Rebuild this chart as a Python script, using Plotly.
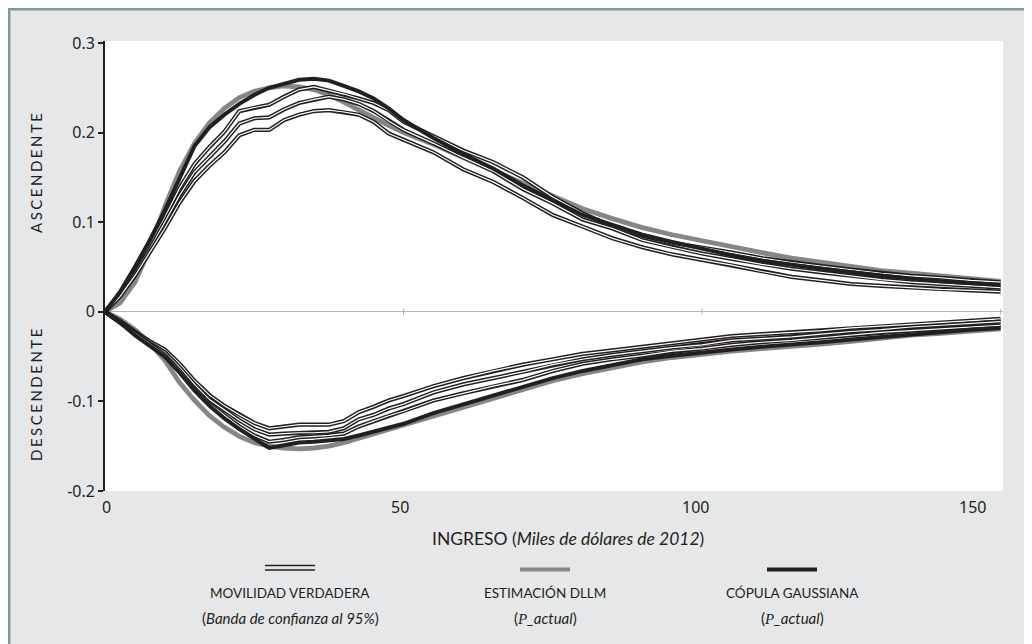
import plotly.graph_objects as go

# ---------------- data ----------------
X = [0, 2.5, 5, 7.5, 10, 12.5, 15, 17.5, 20, 22.5, 25, 27.5, 30, 32.5, 35, 37.5, 40, 42.5, 45, 47.5, 50,
     55, 60, 65, 70, 75, 80, 85, 90, 95, 100, 105, 110, 115, 120, 125, 130, 135, 140, 145, 150]

# Estimación DLLM (gray)
dllm_asc = [0, 0.010, 0.033, 0.070, 0.117, 0.157, 0.188, 0.211, 0.227, 0.239, 0.246, 0.250, 0.252, 0.251, 0.248,
            0.242, 0.234, 0.225, 0.216, 0.208, 0.200,
            0.187, 0.172, 0.158, 0.144, 0.129, 0.115, 0.104, 0.094, 0.086, 0.079, 0.072, 0.066, 0.060, 0.055,
            0.050, 0.046, 0.043, 0.040, 0.037, 0.034]
dllm_desc = [0, -0.008, -0.020, -0.035, -0.054, -0.079, -0.099, -0.116, -0.129, -0.139, -0.146, -0.150, -0.152,
             -0.153, -0.152, -0.150, -0.146, -0.141, -0.137, -0.132, -0.127,
             -0.116, -0.106, -0.096, -0.086, -0.077, -0.069, -0.062, -0.056, -0.051, -0.047, -0.044, -0.041,
             -0.039, -0.036, -0.033, -0.029, -0.026, -0.024, -0.021, -0.019]

# Cópula gaussiana (black)
copula_asc = [0, 0.022, 0.050, 0.080, 0.113, 0.150, 0.185, 0.206, 0.220, 0.232, 0.242, 0.250, 0.255, 0.259, 0.260,
              0.258, 0.252, 0.246, 0.238, 0.227, 0.214,
              0.194, 0.176, 0.160, 0.141, 0.125, 0.108, 0.097, 0.086, 0.078, 0.070, 0.063, 0.057, 0.052, 0.048,
              0.044, 0.040, 0.037, 0.034, 0.032, 0.030]
copula_desc = [0, -0.012, -0.026, -0.038, -0.050, -0.068, -0.088, -0.105, -0.119, -0.131, -0.142, -0.152, -0.149,
               -0.146, -0.145, -0.144, -0.142, -0.138, -0.134, -0.130, -0.125,
               -0.113, -0.103, -0.093, -0.083, -0.074, -0.066, -0.059, -0.053, -0.049, -0.045, -0.042, -0.039,
               -0.037, -0.034, -0.031, -0.028, -0.025, -0.023, -0.020, -0.018]

# Movilidad verdadera (banda de confianza al 95%) - double lines
verd_a_asc = [0, 0.020, 0.045, 0.074, 0.105, 0.138, 0.165, 0.184, 0.201, 0.224, 0.228, 0.231, 0.240, 0.248, 0.251,
              0.247, 0.243, 0.238, 0.233, 0.225, 0.212,
              0.196, 0.180, 0.167, 0.150, 0.128, 0.110, 0.095, 0.085, 0.077, 0.072, 0.066, 0.060, 0.055, 0.051,
              0.047, 0.043, 0.040, 0.038, 0.035, 0.033]
verd_b_asc = [0, 0.019, 0.043, 0.070, 0.100, 0.130, 0.156, 0.173, 0.190, 0.210, 0.216, 0.217, 0.226, 0.233, 0.237,
              0.240, 0.237, 0.232, 0.224, 0.213, 0.203,
              0.188, 0.172, 0.157, 0.137, 0.121, 0.103, 0.093, 0.080, 0.072, 0.065, 0.059, 0.053, 0.048, 0.044,
              0.040, 0.036, 0.033, 0.031, 0.029, 0.027]
verd_c_asc = [0, 0.017, 0.040, 0.066, 0.093, 0.122, 0.146, 0.163, 0.178, 0.197, 0.203, 0.203, 0.214, 0.220, 0.224,
              0.225, 0.223, 0.220, 0.212, 0.199, 0.192,
              0.178, 0.159, 0.145, 0.127, 0.108, 0.095, 0.082, 0.072, 0.064, 0.058, 0.052, 0.045, 0.039, 0.035,
              0.031, 0.029, 0.027, 0.025, 0.024, 0.0225]
verd_a_desc = [0, -0.010, -0.022, -0.033, -0.042, -0.058, -0.077, -0.093, -0.105, -0.115, -0.124, -0.130, -0.128,
               -0.126, -0.126, -0.126, -0.122, -0.112, -0.106, -0.099, -0.094,
               -0.083, -0.074, -0.066, -0.059, -0.053, -0.047, -0.043, -0.039, -0.035, -0.031, -0.027, -0.025,
               -0.023, -0.021, -0.018, -0.016, -0.014, -0.012, -0.010, -0.008]
verd_b_desc = [0, -0.011, -0.023, -0.035, -0.045, -0.062, -0.081, -0.098, -0.110, -0.121, -0.131, -0.137, -0.136,
               -0.135, -0.135, -0.134, -0.130, -0.120, -0.115, -0.108, -0.103,
               -0.090, -0.081, -0.074, -0.067, -0.059, -0.053, -0.048, -0.044, -0.040, -0.037, -0.032, -0.030,
               -0.028, -0.025, -0.022, -0.020, -0.017, -0.015, -0.013, -0.011]
verd_c_desc = [0, -0.012, -0.025, -0.037, -0.048, -0.066, -0.086, -0.103, -0.116, -0.128, -0.138, -0.145, -0.143,
               -0.140, -0.139, -0.138, -0.136, -0.128, -0.122, -0.116, -0.111,
               -0.099, -0.091, -0.083, -0.076, -0.066, -0.058, -0.053, -0.049, -0.044, -0.041, -0.037, -0.034,
               -0.032, -0.029, -0.026, -0.023, -0.021, -0.019, -0.017, -0.015]

X_TICKS = [0, 50, 100, 150]
X_TICKTEXT = ["0", "50", "100", "150"]
Y_TICKS = [-0.2, -0.1, 0, 0.1, 0.2, 0.3]
Y_TICKTEXT = ["-0.2", "-0.1", "0", "0.1", "0.2", "0.3"]

X_TITLE = "INGRESO (<i>Miles de dólares de 2012</i>)"
Y_TITLE_UP = "ASCENDENTE"
Y_TITLE_DOWN = "DESCENDENTE"
LEG_NAMES = ["MOVILIDAD VERDADERA", "ESTIMACIÓN DLLM", "CÓPULA GAUSSIANA"]
LEG_SUBS = ["(<i>Banda de confianza al 95%</i>)",
            "(<i><span style='font-family:Liberation Serif'>P</span>_actual</i>)",
            "(<i><span style='font-family:Liberation Serif'>P</span>_actual</i>)"]

# ---------------- style ----------------
BLACK = "#231f20"
GRAY = "#858688"
ZGRAY = "#b4b5b7"
BG = "#e6e7e8"
FRAME = "#7f97a3"
TICKFONT = "Noto Sans"
CAPFONT = "Lato"
ITFONT = "Lato"
X_LABEL_SHIFT = [1, -4, -7, -28]   # horizontal nudges of the x tick labels (px)

# the page body adds an 8px offset; layout is expressed in screen pixels
OFF = 8
W, H = 1032 - OFF, 644 - OFF
PLOT_L, PLOT_R, PLOT_T = 105, 1003, 41          # screen px
L, T = PLOT_L - OFF, PLOT_T - OFF
R = W - (PLOT_R - OFF)
B = 153
PW, PH = W - L - R, H - T - B


def sx(xs):
    return (xs - OFF - L) / PW


def sy(ys):
    return (H - B - (ys - OFF)) / PH


fig = go.Figure()

for ys in (dllm_asc, dllm_desc):
    fig.add_trace(go.Scatter(x=X, y=ys, mode="lines", line=dict(color=GRAY, width=4.8),
                             hoverinfo="skip", showlegend=False))
for ys in (verd_a_asc, verd_b_asc, verd_c_asc, verd_a_desc, verd_b_desc, verd_c_desc):
    fig.add_trace(go.Scatter(x=X, y=ys, mode="lines", line=dict(color=BLACK, width=4.2),
                             hoverinfo="skip", showlegend=False))
    fig.add_trace(go.Scatter(x=X, y=ys, mode="lines", line=dict(color="white", width=1.2),
                             hoverinfo="skip", showlegend=False))
for ys in (copula_asc, copula_desc):
    fig.add_trace(go.Scatter(x=X, y=ys, mode="lines", line=dict(color=BLACK, width=4),
                             hoverinfo="skip", showlegend=False))

shapes = []
# frame border (top and left)
shapes.append(dict(type="line", xref="paper", yref="paper", x0=sx(OFF), x1=sx(1040), y0=sy(OFF + 1.2),
                   y1=sy(OFF + 1.2), line=dict(color=FRAME, width=2.5)))
shapes.append(dict(type="line", xref="paper", yref="paper", x0=sx(OFF + 1.2), x1=sx(OFF + 1.2), y0=sy(OFF),
                   y1=sy(660), line=dict(color=FRAME, width=2.5)))
# tick marks crossing the zero line
for v in X_TICKS[1:]:
    shapes.append(dict(type="line", xref="x", yref="y", x0=v, x1=v, y0=-0.0035, y1=0.0035,
                       line=dict(color=ZGRAY, width=1)))

# legend samples
LEG_CX = [290, 545, 792]
LEG_HALF = 25
c0 = LEG_CX[0]
for yy in (565.5, 570):
    shapes.append(dict(type="line", xref="paper", yref="paper", x0=sx(c0 - LEG_HALF), x1=sx(c0 + LEG_HALF),
                       y0=sy(yy), y1=sy(yy), line=dict(color=BLACK, width=1.4)))
shapes.append(dict(type="line", xref="paper", yref="paper", x0=sx(LEG_CX[1] - LEG_HALF), x1=sx(LEG_CX[1] + LEG_HALF),
                   y0=sy(569.5), y1=sy(569.5), line=dict(color=GRAY, width=4)))
shapes.append(dict(type="line", xref="paper", yref="paper", x0=sx(LEG_CX[2] - LEG_HALF), x1=sx(LEG_CX[2] + LEG_HALF),
                   y0=sy(569.5), y1=sy(569.5), line=dict(color=BLACK, width=4)))

annotations = []
# x tick labels
for v, t, dx in zip(X_TICKS, X_TICKTEXT, X_LABEL_SHIFT):
    annotations.append(dict(text=t, xref="x", yref="paper", x=v, y=sy(507), xshift=dx, showarrow=False,
                            xanchor="center", yanchor="middle",
                            font=dict(family=TICKFONT, size=16, color=BLACK)))
annotations.append(dict(text=X_TITLE, xref="paper", yref="paper", x=sx(568), y=sy(538), showarrow=False,
                        xanchor="center", yanchor="middle", font=dict(family=ITFONT, size=17.5, color=BLACK)))
for txt, yc in ((Y_TITLE_UP, 172), (Y_TITLE_DOWN, 394)):
    annotations.append(dict(text="<span style='letter-spacing:2.5px'>" + txt + "</span>", xref="paper",
                            yref="paper", x=sx(36), y=sy(yc), showarrow=False, textangle=-90,
                            xanchor="center", yanchor="middle",
                            font=dict(family=CAPFONT, size=15, color=BLACK)))
for cx, name, sub in zip(LEG_CX, LEG_NAMES, LEG_SUBS):
    annotations.append(dict(text=name, xref="paper", yref="paper", x=sx(cx), y=sy(593), showarrow=False,
                            xanchor="center", yanchor="middle", font=dict(family=CAPFONT, size=13.5, color=BLACK)))
    annotations.append(dict(text=sub, xref="paper", yref="paper", x=sx(cx), y=sy(618), showarrow=False,
                            xanchor="center", yanchor="middle", font=dict(family=ITFONT, size=15, color=BLACK)))

fig.update_layout(
    width=W, height=H,
    margin=dict(l=L, r=R, t=T, b=B, pad=0),
    paper_bgcolor=BG, plot_bgcolor="white",
    showlegend=False,
    shapes=shapes, annotations=annotations,
    xaxis=dict(range=[0, 150.4], tickvals=X_TICKS, ticks="", showticklabels=False, showline=False,
               showgrid=False, zeroline=False, fixedrange=True),
    yaxis=dict(range=[-0.2, 0.3022], tickvals=Y_TICKS, ticktext=Y_TICKTEXT, ticks="outside", ticklen=5,
               tickwidth=1.5, tickcolor=BLACK, showline=True, linecolor=BLACK, linewidth=1.8,
               showgrid=False, zeroline=True, zerolinecolor=ZGRAY, zerolinewidth=1.2,
               tickfont=dict(family=TICKFONT, size=16, color=BLACK), fixedrange=True),
)

fig.write_html("out.html")
